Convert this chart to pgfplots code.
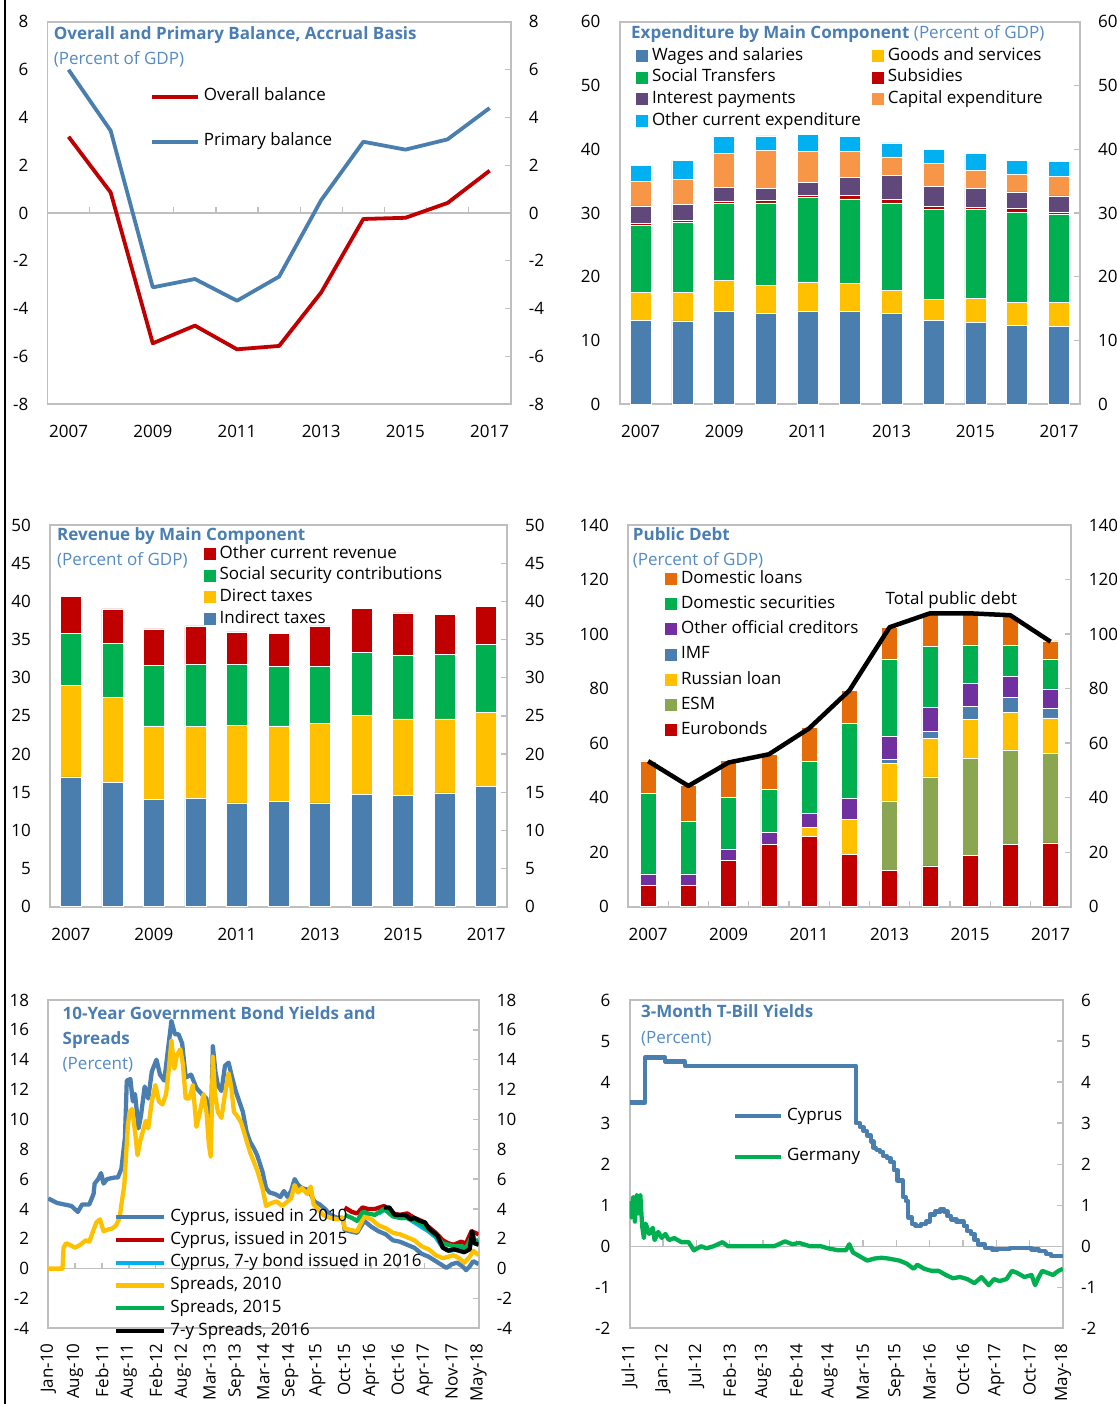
\documentclass[border=0pt]{standalone}
\usepackage{pgfplots}
\pgfplotsset{compat=1.18}
\usepackage{pgfplotstable}
\usepackage{fontspec}
\setmainfont{Open Sans}
\definecolor{frame}{RGB}{191,191,191}
\definecolor{cblue}{RGB}{74,126,175}
\definecolor{tblue}{RGB}{74,126,178}
\definecolor{lblue}{RGB}{84,139,196}
\definecolor{cred}{RGB}{192,0,0}
\definecolor{cgreen}{RGB}{0,176,80}
\definecolor{cgold}{RGB}{255,192,0}
\definecolor{cpurple}{RGB}{96,73,122}
\definecolor{corange}{RGB}{247,150,70}
\definecolor{ccyan}{RGB}{0,176,240}
\definecolor{dorange}{RGB}{228,108,10}
\definecolor{vpurple}{RGB}{112,48,160}
\definecolor{olive}{RGB}{139,166,80}
\newcommand\fs{\fontsize{17}{20}\selectfont}

\pgfplotstableread{
year W G S Sub I C O
2007 13.2 4.3 10.6 0.3 2.7 3.9 2.5
2008 13.1 4.4 11.0 0.3 2.6 3.9 2.9
2009 14.6 4.8 12.1 0.3 2.2 5.3 2.7
2010 14.3 4.4 12.9 0.4 1.9 5.9 2.3
2011 14.6 4.6 13.2 0.4 2.0 4.9 2.6
2012 14.6 4.4 13.2 0.6 2.8 4.1 2.3
2013 14.3 3.6 13.7 0.5 3.8 2.9 2.2
2014 13.2 3.3 14.1 0.4 3.2 3.6 2.2
2015 12.8 3.8 14.0 0.3 3.0 2.8 2.6
2016 12.4 3.6 14.1 0.6 2.6 2.8 2.2
2017 12.2 3.8 13.8 0.3 2.6 3.1 2.3
}\expend

\pgfplotstableread{
year Ind Dir Soc Oth
2007 17.0 12.0 6.8 4.9
2008 16.3 11.1 7.1 4.5
2009 14.1 9.6 7.9 4.8
2010 14.2 9.4 8.1 5.1
2011 13.6 10.2 7.9 4.3
2012 13.8 9.9 7.8 4.3
2013 13.6 10.4 7.5 5.3
2014 14.7 10.4 8.2 5.8
2015 14.6 10.0 8.4 5.5
2016 14.9 9.7 8.5 5.2
2017 15.8 9.7 8.9 4.9
}\revenue

\pgfplotstableread{
year Eur ESM Rus IMF Oth DSec DLoan Total
2007 7.7 0 0 0 4.3 29.5 12.0 53.4
2008 7.7 0 0 0 4.3 19.2 13.3 44.3
2009 16.9 0 0 0 4.3 18.8 13.8 52.9
2010 22.9 0 0 0 4.3 15.9 12.8 55.9
2011 25.9 0 3.1 0 5.1 19.1 12.5 65.4
2012 19.3 0 12.8 0 7.6 27.5 12.2 79.3
2013 13.2 25.6 13.8 1.5 8.6 28.2 11.6 102.5
2014 15.0 32.6 14.2 2.6 8.6 22.6 11.7 107.6
2015 18.7 35.7 14.2 4.8 8.4 14.2 11.4 107.6
2016 22.9 34.6 13.9 5.4 7.6 11.4 10.9 106.9
2017 23.4 32.8 13.1 3.4 7.2 11.0 6.6 97.2
}\debt

\pgfplotsset{
  base/.style={
    scale only axis,
    axis line style={draw=frame, line width=1.8pt},
    tick align=inside,
    major tick length=6pt,
    tick style={draw=frame, line width=1.3pt},
    ticklabel style={font=\fs, inner sep=0pt, text=black},
    /pgf/number format/assume math mode=true,
    /pgf/number format/1000 sep={},
    ytick pos=right,
    yticklabel pos=left,
    yticklabel shift=19pt,
    xticklabel shift=21pt,
    xtick style={draw=none},
    legend cell align=left,
    legend style={draw=none, fill=none, inner sep=0pt, outer sep=0pt, font=\fs,
      anchor=north west,
      nodes={inner sep=0pt, text height=12pt, text depth=3.5pt},
      /tikz/every odd column/.append style={column sep=4pt}},
  },
  rightlab/.style={
    scale only axis,
    hide x axis,
    axis y line*=right,
    y axis line style={draw=none},
    ytick style={draw=none},
    yticklabel pos=right,
    yticklabel shift=18pt,
    ticklabel style={font=\fs, inner sep=0pt, text=black},
    /pgf/number format/assume math mode=true,
  },
  barleg/.style={legend image code/.code={\draw[##1, draw=none] (0pt,-6pt) rectangle (12pt,6pt);}},
  lineleg/.style={legend image code/.code={\draw[##1] (0pt,0pt) -- (#1,0pt);}},
}

\begin{document}
\begin{tikzpicture}
\useasboundingbox (0,0) rectangle (1116pt,-1404pt);
\draw[black, line width=2pt] (5pt,0pt) -- (5pt,-1404pt);

% ---------------- Panel 1 ----------------
\begin{axis}[base, at={(47.5pt,-404.3pt)}, anchor=south west, width=463.2pt, height=382.6pt,
  xmin=2006.5, xmax=2017.5, ymin=-8, ymax=8, ytick={-8,-6,...,8}, xtick={2007,2009,...,2017},
  lineleg=46pt,
  legend style={at={(0.2213,0.8242)}, row sep=29.5pt}]
\draw[frame, line width=1.3pt] (axis cs:2006.5,0) -- (axis cs:2017.5,0);
\pgfplotsinvokeforeach{2007.5,2008.5,...,2016.5}{\draw[frame,line width=1.3pt] (axis cs:#1,0) -- ++(0pt,6pt);}
\addplot[cred, line width=3.8pt, line join=round] coordinates {(2007,3.19) (2008,0.86) (2009,-5.45) (2010,-4.71) (2011,-5.70) (2012,-5.56) (2013,-3.32) (2014,-0.25) (2015,-0.20) (2016,0.42) (2017,1.77)};
\addlegendentry{Overall balance}
\addplot[cblue, line width=3.8pt, line join=round] coordinates {(2007,5.99) (2008,3.44) (2009,-3.11) (2010,-2.76) (2011,-3.67) (2012,-2.66) (2013,0.54) (2014,2.98) (2015,2.65) (2016,3.08) (2017,4.39)};
\addlegendentry{Primary balance}
\end{axis}
\begin{axis}[rightlab, at={(47.5pt,-404.3pt)}, anchor=south west, width=463.2pt, height=382.6pt,
  xmin=2006.5, xmax=2017.5, ymin=-8, ymax=8, ytick={-8,-6,...,8}]
\end{axis}
\node[anchor=base west, font=\fs\bfseries, text=tblue, inner sep=0pt] at (53.6pt,-39.3pt) {Overall and Primary Balance, Accrual Basis};
\node[anchor=base west, font=\fs, text=lblue, inner sep=0pt] at (53.6pt,-65pt) {(Percent of GDP)};

% ---------------- Panel 2 ----------------
\begin{axis}[base, at={(619.6pt,-404.3pt)}, anchor=south west, width=460.4pt, height=382.6pt,
  ybar stacked, bar width=21pt,
  xmin=2006.5, xmax=2017.5, ymin=0, ymax=60, ytick={0,10,...,60}, xtick={2007,2009,...,2017},
  barleg, legend columns=2,
  legend style={at={(0.0356,0.9306)}, row sep=6.1pt, /tikz/column 2/.append style={column sep=11pt}}]
\addplot[fill=cblue, draw=white, line width=0.5pt] table[x=year,y=W] {\expend};
\addlegendentry{Wages and salaries}
\addplot[fill=cgold, draw=white, line width=0.5pt] table[x=year,y=G] {\expend};
\addlegendentry{Goods and services}
\addplot[fill=cgreen, draw=white, line width=0.5pt] table[x=year,y=S] {\expend};
\addlegendentry{Social Transfers}
\addplot[fill=cred, draw=white, line width=0.5pt] table[x=year,y=Sub] {\expend};
\addlegendentry{Subsidies}
\addplot[fill=cpurple, draw=white, line width=0.5pt] table[x=year,y=I] {\expend};
\addlegendentry{Interest payments}
\addplot[fill=corange, draw=white, line width=0.5pt] table[x=year,y=C] {\expend};
\addlegendentry{Capital expenditure}
\addplot[fill=ccyan, draw=white, line width=0.5pt] table[x=year,y=O] {\expend};
\addlegendentry{Other current expenditure}
\end{axis}
\begin{axis}[rightlab, at={(619.6pt,-404.3pt)}, anchor=south west, width=460.4pt, height=382.6pt,
  xmin=2006.5, xmax=2017.5, ymin=0, ymax=60, ytick={0,10,...,60}]
\end{axis}
\node[anchor=base west, font=\fs, inner sep=0pt] at (631pt,-38.3pt) {\textcolor{tblue}{\bfseries Expenditure by Main Component} \textcolor{lblue}{(Percent of GDP)}};

% ---------------- Panel 3 ----------------
\begin{axis}[base, at={(50pt,-906.7pt)}, anchor=south west, width=457pt, height=381.7pt,
  ybar stacked, bar width=21pt,
  xmin=2006.5, xmax=2017.5, ymin=0, ymax=50, ytick={0,5,...,50}, xtick={2007,2009,...,2017},
  barleg, reverse legend,
  legend style={at={(0.3361,0.9443)}, row sep=6.2pt}]
\addplot[fill=cblue, draw=white, line width=0.5pt] table[x=year,y=Ind] {\revenue};
\addlegendentry{Indirect taxes}
\addplot[fill=cgold, draw=white, line width=0.5pt] table[x=year,y=Dir] {\revenue};
\addlegendentry{Direct taxes}
\addplot[fill=cgreen, draw=white, line width=0.5pt] table[x=year,y=Soc] {\revenue};
\addlegendentry{Social security contributions}
\addplot[fill=cred, draw=white, line width=0.5pt] table[x=year,y=Oth] {\revenue};
\addlegendentry{Other current revenue}
\end{axis}
\begin{axis}[rightlab, at={(50pt,-906.7pt)}, anchor=south west, width=457pt, height=381.7pt,
  xmin=2006.5, xmax=2017.5, ymin=0, ymax=50, ytick={0,5,...,50}]
\end{axis}
\node[anchor=base west, font=\fs\bfseries, text=tblue, inner sep=0pt] at (57pt,-540pt) {Revenue by Main Component};
\node[anchor=base west, font=\fs, text=lblue, inner sep=0pt] at (57pt,-565.3pt) {(Percent of GDP)};

% ---------------- Panel 4 ----------------
\begin{axis}[base, at={(628pt,-906.7pt)}, anchor=south west, width=442.7pt, height=381.7pt,
  ybar stacked, bar width=16pt,
  xmin=2006.5, xmax=2017.5, ymin=0, ymax=140, ytick={0,20,...,140}, xtick={2007,2009,...,2017},
  barleg, reverse legend,
  legend style={at={(0.0836,0.8788)}, row sep=9.7pt}]
\pgfplotsinvokeforeach{2007.5,2008.5,...,2016.5}{\draw[frame,line width=1.3pt] (axis cs:#1,0) -- ++(0pt,6pt);}
\addplot[fill=cred, draw=white, line width=0.5pt] table[x=year,y=Eur] {\debt};
\addlegendentry{Eurobonds}
\addplot[fill=olive, draw=white, line width=0.5pt] table[x=year,y=ESM] {\debt};
\addlegendentry{ESM}
\addplot[fill=cgold, draw=white, line width=0.5pt] table[x=year,y=Rus] {\debt};
\addlegendentry{Russian loan}
\addplot[fill=cblue, draw=white, line width=0.5pt] table[x=year,y=IMF] {\debt};
\addlegendentry{IMF}
\addplot[fill=vpurple, draw=white, line width=0.5pt] table[x=year,y=Oth] {\debt};
\addlegendentry{Other official creditors}
\addplot[fill=cgreen, draw=white, line width=0.5pt] table[x=year,y=DSec] {\debt};
\addlegendentry{Domestic securities}
\addplot[fill=dorange, draw=white, line width=0.5pt] table[x=year,y=DLoan] {\debt};
\addlegendentry{Domestic loans}
\end{axis}
\begin{axis}[rightlab, at={(628pt,-906.7pt)}, anchor=south west, width=442.7pt, height=381.7pt,
  xmin=2006.5, xmax=2017.5, ymin=0, ymax=140, ytick={0,20,...,140}]
\addplot[black, line width=4.5pt, line join=round] table[x=year,y=Total] {\debt};
\end{axis}
\node[anchor=base west, font=\fs\bfseries, text=tblue, inner sep=0pt] at (632.7pt,-540pt) {Public Debt};
\node[anchor=base west, font=\fs, text=lblue, inner sep=0pt] at (632.7pt,-565pt) {(Percent of GDP)};
\node[anchor=base west, font=\fs, inner sep=0pt] at (885.5pt,-604.3pt) {Total public debt};

% ---------------- Panel 5 ----------------
\begin{axis}[base, at={(48.2pt,-1328.3pt)}, anchor=south west, width=430.4pt, height=328.3pt,
  xmin=0, xmax=100, ymin=-4, ymax=18, ytick={-4,-2,...,18},
  xtick={0,6.25,...,100},
  xticklabels={Jan-10,Aug-10,Feb-11,Aug-11,Feb-12,Aug-12,Mar-13,Sep-13,Mar-14,Sep-14,Apr-15,Oct-15,Apr-16,Oct-16,Apr-17,Nov-17,May-18},
  xticklabel style={rotate=90, anchor=east}, xticklabel shift=15pt,
  lineleg=48pt,
  legend style={at={(0.1529,0.3617)}, row sep=7.2pt}]
\draw[frame, line width=1.3pt] (axis cs:0,0) -- (axis cs:100,0);
\pgfplotsinvokeforeach{6.25,12.5,...,93.75}{\draw[frame,line width=1.3pt] (axis cs:#1,0) -- ++(0pt,6pt);}
\addplot[cblue, line width=4.3pt, line join=round] coordinates {(0,4.7) (2.07,4.4) (5.39,4.2) (6.89,3.8) (7.88,4.3) (9.54,4.3) (10.54,5.0) (10.79,5.7) (11.62,6.0) (12.28,6.4) (12.86,5.7) (13.69,6.0) (15.35,6.1) (16.18,6.1) (17.01,6.7) (17.84,8.8) (18.26,12.6) (19.09,12.7) (19.67,11.2) (20.17,11.7) (21.0,9.4) (21.58,10.3) (22.41,12.2) (23.24,11.4) (24.07,13.2) (25.15,14.0) (25.98,13.0) (26.97,12.6) (27.8,14.6) (28.63,16.6) (29.46,15.7) (30.29,15.7) (31.12,15.1) (31.95,12.8) (33.2,13.0) (34.44,12.1) (35.68,11.7) (36.76,11.4) (37.34,9.6) (37.76,9.2) (38.26,14.9) (38.84,13.2) (39.42,12.3) (40.25,11.9) (41.08,13.6) (41.91,13.8) (42.57,13.0) (43.57,11.9) (44.4,11.2) (45.23,10.5) (46.06,9.2) (46.89,8.5) (47.72,8.1) (48.55,7.6) (49.79,6.5) (50.62,5.4) (51.45,5.1) (52.7,5.0) (53.94,4.8) (54.77,5.2) (55.6,4.8) (56.43,5.2) (57.26,6.0) (58.09,5.6) (58.92,5.4) (60.17,5.3) (61.0,5.0) (61.83,4.5) (63.07,4.3) (64.32,4.0) (65.56,3.6) (67.22,3.4) (68.46,3.4) (68.88,2.6) (70.12,2.5) (71.78,2.4) (73.44,3.2) (75.1,2.8) (76.76,2.5) (78.42,2.3) (80.08,1.9) (81.74,1.8) (83.4,1.6) (85.06,1.4) (86.72,1.0) (88.38,0.8) (90.04,0.5) (91.7,0.2) (92.53,0.05) (93.78,0.3) (95.02,0.4) (96.27,0.15) (97.1,-0.1) (97.93,0.15) (98.76,0.5) (100,0.3)};
\addlegendentry{Cyprus, issued in 2010}
\addplot[cred, line width=4.3pt, line join=round] coordinates {(68.88,4.1) (70.54,3.8) (71.78,3.7) (73.03,4.1) (74.27,4.0) (75.93,4.0) (78.01,4.2) (80.08,3.7) (81.74,3.6) (83.4,3.7) (85.06,3.4) (86.72,3.2) (88.38,2.8) (90.04,2.4) (91.7,1.9) (92.95,1.7) (94.19,1.6) (95.85,1.8) (97.1,1.7) (98.34,2.5) (99.17,2.4) (100,2.3)};
\addlegendentry{Cyprus, issued in 2015}
\addplot[ccyan, line width=4.3pt, line join=round] coordinates {(76.76,3.7) (78.42,4.0) (80.08,3.6) (81.74,3.4) (83.4,3.4) (85.06,3.1) (86.72,2.8) (88.38,2.5) (90.04,2.1) (91.7,1.4) (93.36,1.2) (95.02,1.3) (96.68,1.2) (97.93,1.4) (98.51,2.4) (99.17,1.8) (100,1.7)};
\addlegendentry{Cyprus, 7-y bond issued in 2016}
\addplot[cgold, line width=4.3pt, line join=round] coordinates {(0,0) (3.32,0) (3.57,1.4) (4.15,1.7) (4.98,1.6) (6.22,1.4) (7.47,1.6) (8.71,1.9) (9.54,1.8) (10.54,2.6) (11.2,3.1) (12.03,3.3) (12.86,2.5) (13.69,2.6) (14.94,2.7) (15.77,2.9) (16.6,3.4) (17.01,4.3) (17.68,5.6) (18.01,7.2) (18.51,9.6) (18.92,10.5) (19.5,10.7) (20.17,9.2) (20.75,7.6) (21.33,8.5) (21.99,9.2) (22.66,9.9) (23.24,9.4) (24.07,11.2) (24.9,12.3) (25.73,11.2) (26.56,11.0) (27.39,11.7) (27.97,13.2) (28.63,15.3) (29.29,13.4) (29.88,14.3) (30.71,14.7) (31.29,13.7) (31.95,11.4) (32.78,11.4) (33.61,12.3) (34.44,9.5) (35.27,10.5) (36.1,11.7) (36.76,10.5) (37.34,8.3) (37.76,7.5) (38.26,14.2) (38.76,11.7) (39.42,10.5) (40.25,10.1) (41.08,11.7) (41.91,13.1) (42.57,12.1) (43.15,10.5) (43.98,10.2) (44.81,9.8) (46.06,8.6) (46.89,7.8) (47.72,7.2) (48.55,6.6) (49.79,5.4) (50.62,4.2) (51.87,4.4) (53.11,4.5) (54.36,4.2) (55.6,4.5) (56.43,4.7) (57.26,5.6) (58.09,5.1) (58.92,5.4) (60.17,5.0) (61.0,5.5) (61.66,4.3) (62.66,4.0) (63.9,3.6) (65.56,3.4) (67.22,3.3) (68.46,3.4) (68.88,2.7) (70.12,2.6) (71.78,2.5) (73.44,3.5) (75.1,3.3) (76.76,2.9) (78.42,2.7) (80.08,2.4) (81.74,2.3) (83.4,2.1) (85.06,1.9) (86.72,1.5) (88.38,1.3) (90.04,0.9) (91.7,0.7) (92.95,0.8) (94.19,0.9) (95.44,0.7) (96.68,0.4) (97.93,0.8) (98.76,1.2) (100,0.9)};
\addlegendentry{Spreads, 2010}
\addplot[cgreen, line width=4.3pt, line join=round] coordinates {(68.88,3.6) (70.54,3.4) (71.78,3.2) (73.03,3.8) (74.27,3.7) (75.93,3.6) (78.01,4.0) (80.08,3.5) (81.74,3.4) (83.4,3.4) (85.06,3.2) (86.72,3.0) (88.38,2.6) (90.04,2.2) (91.7,1.7) (92.95,1.6) (94.19,1.5) (95.85,1.5) (97.1,1.4) (98.34,2.1) (99.17,1.8) (100,1.9)};
\addlegendentry{Spreads, 2015}
\addplot[black, line width=4.3pt, line join=round] coordinates {(78.01,4.1) (79.25,4.1) (80.5,3.6) (81.74,3.6) (82.99,3.6) (84.23,3.3) (85.06,3.4) (86.31,3.2) (87.55,3.1) (88.38,2.7) (89.63,2.4) (90.46,2.2) (91.7,1.4) (92.95,1.2) (94.19,1.3) (95.44,1.2) (96.68,1.1) (97.93,1.3) (98.51,2.5) (99.0,1.7) (100,1.6)};
\addlegendentry{7-y Spreads, 2016}
\end{axis}
\begin{axis}[rightlab, at={(48.2pt,-1328.3pt)}, anchor=south west, width=430.4pt, height=328.3pt,
  xmin=0, xmax=100, ymin=-4, ymax=18, ytick={-4,-2,...,18}]
\end{axis}
\node[anchor=base west, font=\fs\bfseries, text=tblue, inner sep=0pt] at (62.5pt,-1019.3pt) {10-Year Government Bond Yields and};
\node[anchor=base west, font=\fs\bfseries, text=tblue, inner sep=0pt] at (62.5pt,-1044.3pt) {Spreads};
\node[anchor=base west, font=\fs, text=lblue, inner sep=0pt] at (62.5pt,-1069.3pt) {(Percent)};

% ---------------- Panel 6 ----------------
\begin{axis}[base, at={(629.6pt,-1328.3pt)}, anchor=south west, width=433.3pt, height=328.3pt,
  xmin=0, xmax=82, ymin=-2, ymax=6, ytick={-2,-1,...,6},
  xtick={0,6.308,12.615,18.923,25.231,31.538,37.846,44.154,50.462,56.769,63.077,69.385,75.692,82},
  xticklabels={Jul-11,Jan-12,Jul-12,Feb-13,Aug-13,Feb-14,Aug-14,Mar-15,Sep-15,Mar-16,Oct-16,Apr-17,Oct-17,May-18},
  xticklabel style={rotate=90, anchor=east}, xticklabel shift=15pt,
  lineleg=46pt,
  legend style={at={(0.238,0.6703)}, row sep=25.2pt}]
\draw[frame, line width=1.3pt] (axis cs:0,0) -- (axis cs:82,0);
\pgfplotsinvokeforeach{6.308,12.615,18.923,25.231,31.538,37.846,44.154,50.462,56.769,63.077,69.385,75.692}{\draw[frame,line width=1.3pt] (axis cs:#1,0) -- ++(0pt,6pt);}
\addplot[cblue, line width=4.3pt, const plot, line join=round] coordinates {(0,3.5) (2.91,4.6) (6.76,4.5) (10.48,4.4) (42.8,3.0) (43.61,2.9) (44.29,2.8) (44.96,2.7) (45.64,2.55) (46.18,2.4) (46.65,2.35) (47.33,2.3) (48.0,2.2) (48.68,2.15) (49.36,2.05) (50.03,1.85) (50.71,1.6) (51.72,1.2) (52.27,1.1) (52.74,0.7) (53.42,0.55) (54.09,0.5) (55.1,0.55) (56.12,0.6) (56.79,0.77) (57.81,0.85) (58.82,0.9) (59.5,0.85) (60.18,0.73) (60.85,0.65) (61.87,0.6) (62.54,0.6) (63.22,0.5) (63.89,0.37) (64.57,0.3) (65.25,0.16) (65.92,0.04) (67.27,-0.04) (68.63,-0.08) (69.64,-0.06) (72.0,-0.04) (74.71,-0.04) (76.06,-0.08) (77.42,-0.12) (78.77,-0.19) (79.78,-0.24) (80.8,-0.24) (82,-0.27)};
\addlegendentry{Cyprus}
\addplot[cgreen, line width=4.3pt, line join=round] coordinates {(0,1.1) (0.34,0.7) (0.68,1.2) (1.01,0.6) (1.35,1.25) (1.69,0.8) (2.03,1.25) (2.37,0.5) (2.7,0.2) (3.04,0.55) (3.72,0.3) (4.39,0.45) (4.73,0.15) (5.41,0.35) (6.09,0.2) (6.76,0.3) (7.44,0.15) (8.45,0.2) (9.8,0.1) (11.16,0.1) (12.17,-0.1) (13.52,0.0) (14.54,-0.05) (15.89,0.0) (17.58,0.1) (18.59,0.0) (20.62,0.0) (23.33,0.0) (24.68,0.0) (27.38,0.0) (29.41,0.12) (30.76,0.05) (32.12,0.08) (34.14,0.0) (36.17,0.0) (37.53,-0.05) (39.55,-0.1) (40.91,-0.1) (41.58,0.05) (42.26,-0.15) (43.61,-0.25) (44.96,-0.35) (46.32,-0.3) (47.67,-0.28) (49.02,-0.3) (51.05,-0.35) (52.4,-0.42) (53.75,-0.55) (54.43,-0.45) (55.78,-0.55) (57.13,-0.6) (58.49,-0.6) (59.84,-0.7) (61.19,-0.78) (62.54,-0.75) (63.89,-0.8) (65.25,-0.9) (66.6,-0.75) (67.95,-0.95) (68.97,-0.8) (69.98,-0.85) (71.33,-0.8) (72.35,-0.6) (73.36,-0.65) (74.71,-0.75) (76.06,-0.7) (76.74,-0.95) (77.42,-0.75) (78.09,-0.6) (79.11,-0.65) (80.12,-0.7) (81.14,-0.6) (82,-0.55)};
\addlegendentry{Germany}
\end{axis}
\begin{axis}[rightlab, at={(629.6pt,-1328.3pt)}, anchor=south west, width=433.3pt, height=328.3pt,
  xmin=0, xmax=82, ymin=-2, ymax=6, ytick={-2,-1,...,6}]
\end{axis}
\node[anchor=base west, font=\fs\bfseries, text=tblue, inner sep=0pt] at (640.9pt,-1017.7pt) {3-Month T-Bill Yields};
\node[anchor=base west, font=\fs, text=lblue, inner sep=0pt] at (640.9pt,-1043.3pt) {(Percent)};
\end{tikzpicture}
\end{document}
